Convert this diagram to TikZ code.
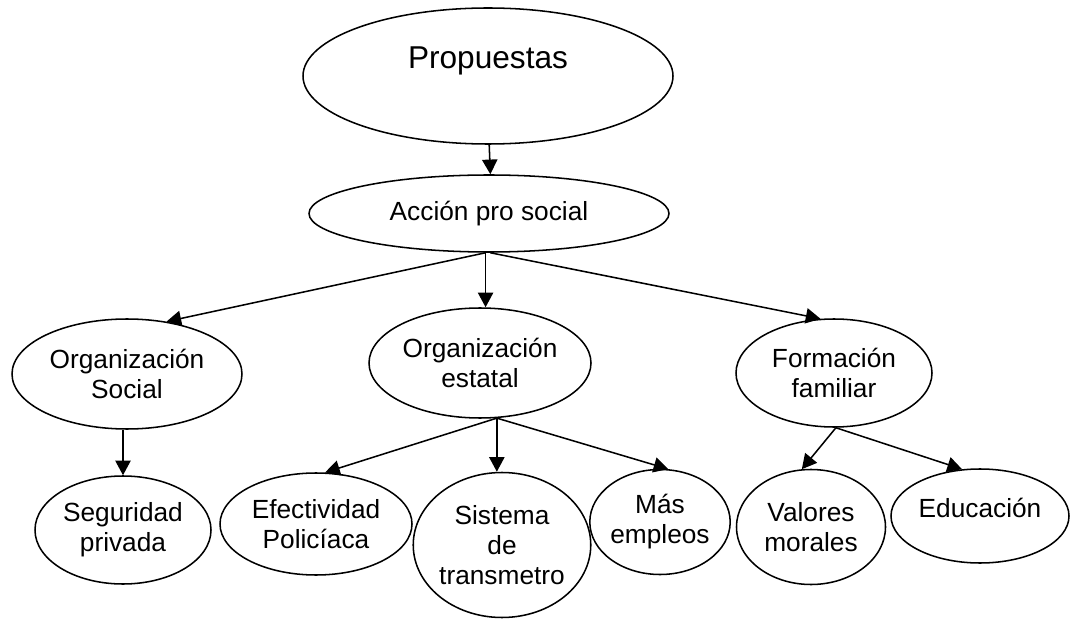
\documentclass[tikz,border=0pt]{standalone}
\usepackage{fontspec}
\setmainfont{Liberation Sans}
\usetikzlibrary{shapes.geometric,arrows.meta}
\tikzset{
  ell/.style={shape=ellipse, draw, line width=1.15pt, inner sep=0pt, align=center,
    font=\fontsize{19.7}{22.5}\selectfont},
  conn/.style={line width=1.15pt, -{Triangle[length=11pt,width=11.5pt]}},
}
\begin{document}
\begin{tikzpicture}[x=0.75pt,y=-0.75pt]
\useasboundingbox (0,0) rectangle (1071,620);
% nodes (coordinates in reference pixels)
\node[ell, minimum width=277.5pt, minimum height=102pt, text height=18pt, text depth=28.5pt,
      font=\fontsize{23.7}{26}\selectfont] (p) at (488,76) {Propuestas};
\node[ell, minimum width=270pt, minimum height=57.75pt] (a) at (489,213.5) {Acción pro social};
\node[ell, minimum width=172.5pt, minimum height=82.5pt] (os) at (127,374) {Organización\\Social};
\node[ell, minimum width=166.5pt, minimum height=82.5pt] (oe) at (480,363) {Organización\\estatal};
\node[ell, minimum width=147pt, minimum height=81pt] (ff) at (834,373) {Formación\\familiar};
\node[ell, minimum width=132pt, minimum height=81pt] (sp) at (123,530) {Seguridad\\privada};
\node[ell, minimum width=144pt, minimum height=76.5pt] (ep) at (316,524) {Efectividad\\Policíaca};
\node[ell, minimum width=130.5pt, minimum height=108.75pt] (st) at (502,545) {Sistema\\de\\transmetro};
\node[ell, minimum width=102pt, minimum height=78.75pt] (me) at (660,522) {Más\\empleos};
\node[ell, minimum width=111.75pt, minimum height=86.25pt] (vm) at (811,527) {Valores\\morales};
\node[ell, minimum width=133.5pt, minimum height=70.5pt, text depth=12pt] (ed) at (980,516) {Educación};
% connectors
\draw[conn] (p.-89.5) -- (a.88);
\draw[conn] (a.-95) -- (os.53.5);
\draw[conn] (a.-95) -- (a.-95 |- oe.north);
\draw[conn] (a.-88) -- (ff.104.8);
\draw[conn] (sp.north |- os.south) -- (sp.north);
\draw[conn] (oe.-73) -- (ep.80);
\draw[conn] (oe.-73) -- (oe.-73 |- st.north);
\draw[conn] (oe.-73) -- (me.81);
\draw[conn] (ff.-88) -- (vm.99);
\draw[conn] (ff.-88) -- (ed.111.8);
\end{tikzpicture}
\end{document}
